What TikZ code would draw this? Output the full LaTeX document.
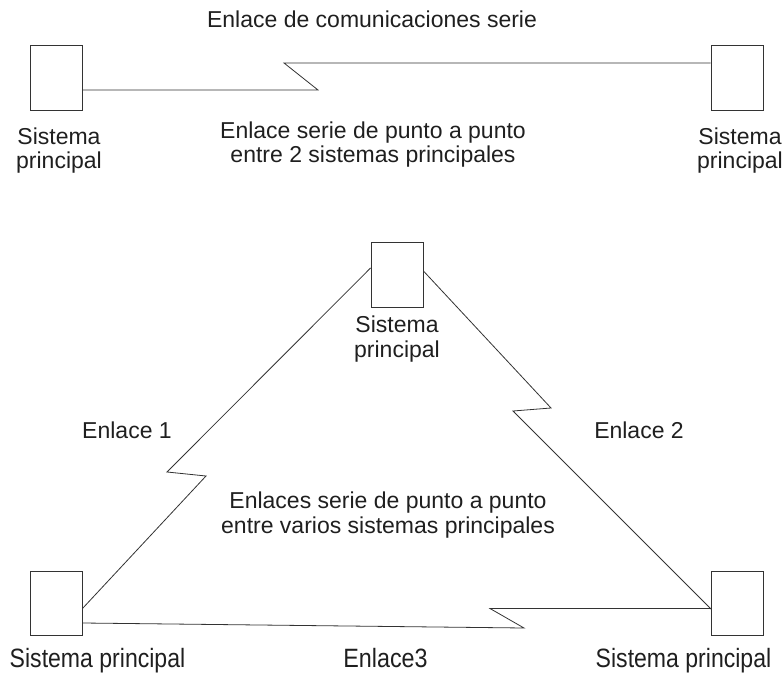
\documentclass[tikz,border=0pt]{standalone}
\usepackage{fontspec}
\setmainfont{Liberation Sans}
\begin{document}
\begin{tikzpicture}[x=1pt,y=-1pt,
  sysbox/.style={draw=black!80,line width=0.9pt,fill=white,inner sep=0pt,minimum width=52pt,minimum height=65pt},
  lnk/.style={draw=black!80,line width=0.8pt,line join=miter},
  lbl/.style={font=\fontsize{23}{24.5}\selectfont,text=black!88,align=center,anchor=base,inner sep=0pt},
  blbl/.style={font=\fontsize{26.5}{28}\selectfont,text=black!88,anchor=base,inner sep=0pt}]
\useasboundingbox (0,0) rectangle (784,674);
% boxes
\node[sysbox] (tl) at (56,77.5) {};
\node[sysbox] (tr) at (737,77.5) {};
\node[sysbox] (mid) at (397,274.5) {};
\node[sysbox,minimum height=64pt] (bl) at (56.5,603) {};
\node[sysbox,minimum height=64pt] (br) at (737.5,603) {};
% zig coordinates
\coordinate (t1) at (318,90);
\coordinate (t2) at (284,63);
\coordinate (l0) at (371,268);
\coordinate (l1) at (167,472);
\coordinate (l2) at (206,476);
\coordinate (l3) at (82,608);
\coordinate (r0) at (423,271);
\coordinate (r1) at (551,408);
\coordinate (r2) at (513,411);
\coordinate (r3) at (712,609);
\coordinate (b0) at (82,623);
\coordinate (b1) at (524,628);
\coordinate (b2) at (490,608.5);
% connectors
\draw[lnk] (tl.east |- t1) -- (t1) -- (t2) -- (tr.west |- t2);
\draw[lnk] (mid.west |- l0) -- (l1) -- (l2) -- (bl.east |- l3);
\draw[lnk] (mid.east |- r0) -- (r1) -- (r2) -- (br.west |- r3);
\draw[lnk] (bl.east |- b0) -- (b1) -- (b2) -- (br.west |- b2);
% texts (base anchor = baseline of the last line)
\node[lbl] (title) at (372,28) {Enlace de comunicaciones serie};
\node[lbl] (tlt) at (59,168.5) {Sistema\\principal};
\node[lbl] (trt) at (740,168.5) {Sistema\\principal};
\node[lbl] (p2p) at (373,162.5) {Enlace serie de punto a punto\\entre 2 sistemas principales};
\node[lbl] (midt) at (397,357) {Sistema\\principal};
\node[lbl] (e1) at (127,438) {Enlace 1};
\node[lbl] (e2) at (639,438) {Enlace 2};
\node[lbl] (multi) at (388,533) {Enlaces serie de punto a punto\\entre varios sistemas principales};
\node[blbl] (blt) at (97.5,667.5) {\scalebox{0.87}[1]{Sistema principal}};
\node[blbl] (e3) at (385.5,667.5) {\scalebox{0.88}[1]{Enlace3}};
\node[blbl] (brt) at (683.5,667.5) {\scalebox{0.87}[1]{Sistema principal}};
\end{tikzpicture}
\end{document}
